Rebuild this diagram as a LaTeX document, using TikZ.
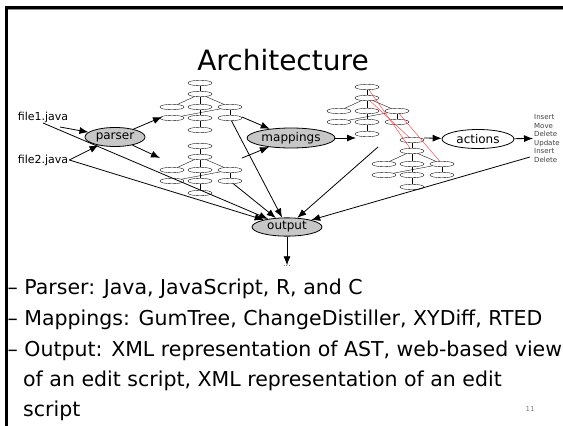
\documentclass[tikz,border=0pt]{standalone}
\usepackage{fontspec}
\setmainfont{DejaVu Sans}
\usetikzlibrary{arrows.meta,shapes.geometric}

% small syntax tree: nine tiny ellipses, top node at #2, names prefixed by #1
\newcommand\smalltree[2]{%
  \begin{scope}[shift={#2}]
    \node[tnode] (#1a) at (0,0) {};
    \node[tnode] (#1b) at (0,11) {};
    \node[tnode] (#1c) at (-28,24) {};
    \node[tnode] (#1d) at (0,24) {};
    \node[tnode] (#1e) at (30,24) {};
    \node[tnode] (#1f) at (-28,35) {};
    \node[tnode] (#1g) at (0,35) {};
    \node[tnode] (#1h) at (30,35) {};
    \node[tnode] (#1i) at (0,47) {};
  \end{scope}
  \draw[tedge] (#1a) -- (#1b);
  \draw[tedge] (#1b) -- (#1c);
  \draw[tedge] (#1b) -- (#1d);
  \draw[tedge] (#1b) -- (#1e);
  \draw[tedge] (#1e) -- (#1f);
  \draw[tedge] (#1d) -- (#1g);
  \draw[tedge] (#1e) -- (#1h);
  \draw[tedge] (#1g) -- (#1i);
}

\begin{document}
\begin{tikzpicture}[x=1pt,y=-1pt,
  tnode/.style={ellipse, draw, line width=0.35pt, fill=white,
    minimum width=24pt, minimum height=5.5pt, inner sep=0pt},
  tedge/.style={line width=0.35pt},
  stage/.style={ellipse, draw, line width=0.8pt, fill=black!22,
    font=\fontsize{12}{14}\selectfont, inner sep=1pt},
  arr/.style={-{Latex[length=9pt,width=7pt]}, line width=0.8pt},
  maplink/.style={red!70, line width=0.5pt},
  bullet/.style={anchor=base west, inner sep=0pt,
    font=\fontsize{20.5}{24}\selectfont}]

\useasboundingbox (0,0) rectangle (563,426);
\fill[white] (0,0) rectangle (563,426);

% slide frame
\draw[black!45, line width=1pt] (7,9.6) -- (563,9.6);
\draw[line width=3pt] (5,7) -- (563,7);
\draw[line width=3pt] (6,5.5) -- (6,426);

% title
\node[anchor=base, inner sep=0pt, font=\fontsize{28}{32}\selectfont]
  (title) at (283,70) {Architecture};

% inputs
\node[font=\fontsize{11}{13}\selectfont, inner sep=1pt] (file1) at (43,117) {file1.java};
\node[font=\fontsize{11}{13}\selectfont, inner sep=1pt] (file2) at (43,160) {file2.java};
\coordinate (f1p) at (60,127);
\coordinate (f1o) at (43,123);

% stages
\node[stage, minimum width=60pt, minimum height=19pt] (parser) at (115,137) {parser};
\node[stage, minimum width=88pt, minimum height=20pt] (mappings) at (291,138) {mappings};
\node[stage, fill=white, minimum width=72pt, minimum height=19pt] (actions) at (478,139) {actions};
\node[stage, minimum width=70pt, minimum height=18pt] (output) at (287,227) {output};
\node[inner sep=0pt, text=black!60, font=\fontsize{8}{9}\selectfont] (dots) at (287,266) {...};

% the two parsed trees
\smalltree{ta}{(200,83)}
\smalltree{tb}{(200,146)}

% mapping between the two trees
\smalltree{ma}{(367,87)}
\smalltree{mb}{(412,140)}
\draw[maplink] (maa) -- (mbb);
\draw[maplink] (mab) -- (mba);
\draw[maplink] (mae) -- (mbe);

% edit script
\node[anchor=west, align=left, inner sep=1pt, text=black!75,
  font=\fontsize{7}{8.6}\selectfont] (script) at (533,138.5)
  {Insert\\Move\\Delete\\Update\\Insert\\Delete};

% connector end points
\coordinate (pt1) at (162,117);
\coordinate (pt2) at (160,158);
\coordinate (m1) at (242,117);
\coordinate (m2) at (242,158);
\coordinate (gin) at (356,138);
\coordinate (gout) at (424,138);
\coordinate (gsrc) at (378,147);
\coordinate (ssrc) at (530,157);

% flow
\draw[arr] (f1p) -- (parser);
\draw[arr] (file2.east) -- (parser);
\draw[arr] (parser) -- (pt1);
\draw[arr] (parser) -- (pt2);
\draw[arr] (m1) -- (mappings);
\draw[arr] (m2) -- (mappings);
\draw[arr] (mappings) -- (gin);
\draw[arr] (gout) -- (actions);
\draw[arr] (actions) -- (script.west);

% everything feeds the output
\draw[arr] (f1o) -- (output);
\draw[arr] (file2.east) -- (output);
\draw[arr] (tah) -- (output);
\draw[arr] (tbh) -- (output);
\draw[arr] (gsrc) -- (output);
\draw[arr] (ssrc) -- (output);
\draw[arr] (output) -- (dots);

% notes
\node[bullet] (b1) at (7.5,294) {– Parser: Java, JavaScript, R, and C};
\node[bullet] (b2) at (7.5,325) {– Mappings: GumTree, ChangeDistiller, XYDiff, RTED};
\node[bullet] (b3) at (7.5,356) {– Output: XML representation of AST, web-based view};
\node[bullet] (b4) at (23,386) {of an edit script, XML representation of an edit};
\node[bullet] (b5) at (23,416) {script};
\node[inner sep=0pt, text=black!50, font=\fontsize{7}{8}\selectfont] (pg) at (530,409) {11};

\end{tikzpicture}
\end{document}
